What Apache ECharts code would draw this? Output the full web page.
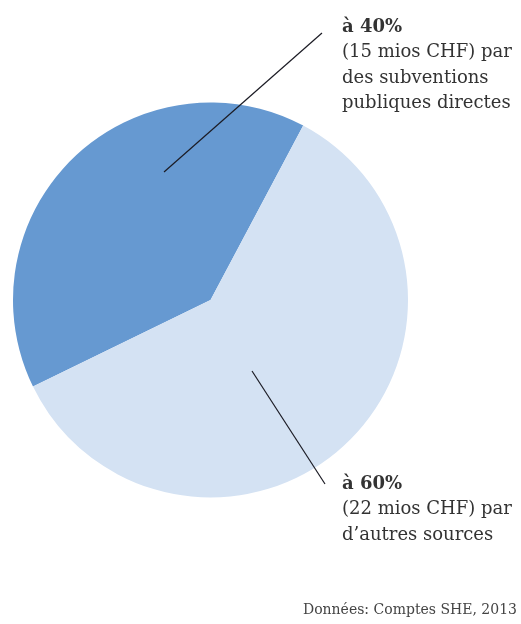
<!DOCTYPE html>
<html><head><meta charset="utf-8">
<script src="https://cdn.jsdelivr.net/npm/echarts@6/dist/echarts.min.js"></script>
<style>html,body{margin:0;padding:0;background:#fff}#c{width:521px;height:624px}</style>
</head><body><div id="c"></div>
<script>
const categories = ["subventions publiques directes", "autres sources"];
const values = [40, 60];
const labelHead = ["à 40%", "à 60%"];
const labelBody = [["(15 mios CHF) par", "des subventions", "publiques directes"], ["(22 mios CHF) par", "d’autres sources"]];
const colors = ["#6699D1", "#D4E2F3"];
const source = "Données: Comptes SHE, 2013";

const FONT = "'DejaVu Serif', serif";
const chart = echarts.init(document.getElementById('c'), null, {renderer: 'canvas'});

function textBlock(x, y, head, body) {
  const els = [{type: 'text', z: 100, x: x, y: y, style: {text: head, font: "bold 18px " + FONT, fill: '#333', textVerticalAlign: 'middle'}}];
  body.forEach((t, i) => els.push({type: 'text', z: 100, x: x, y: y + 25.5 * (i + 1), style: {text: t, font: "18px " + FONT, fill: '#333', textVerticalAlign: 'middle'}}));
  return els;
}

chart.setOption({
  animation: false,
  series: [{
    type: 'pie',
    z: 1,
    center: [210.5, 300],
    radius: [0, 197.5],
    startAngle: 206,
    clockwise: true,
    label: {show: false},
    labelLine: {show: false},
    itemStyle: {borderWidth: 0},
    emphasis: {disabled: true},
    data: categories.map((c, i) => ({name: c, value: values[i], itemStyle: {color: colors[i]}}))
  }],
  graphic: [
    {type: 'line', z: 100, shape: {x1: 164, y1: 172, x2: 322, y2: 33}, style: {stroke: '#1b1b24', lineWidth: 1.2}},
    {type: 'line', z: 100, shape: {x1: 252, y1: 371, x2: 325, y2: 484}, style: {stroke: '#1b1b24', lineWidth: 1.2}},
    ...textBlock(342, 27, labelHead[0], labelBody[0]),
    ...textBlock(342, 484, labelHead[1], labelBody[1]),
    {type: 'text', z: 100, right: 4, top: 603, style: {text: source, font: "14px " + FONT, fill: '#444', textAlign: 'right'}}
  ]
});
</script></body></html>
